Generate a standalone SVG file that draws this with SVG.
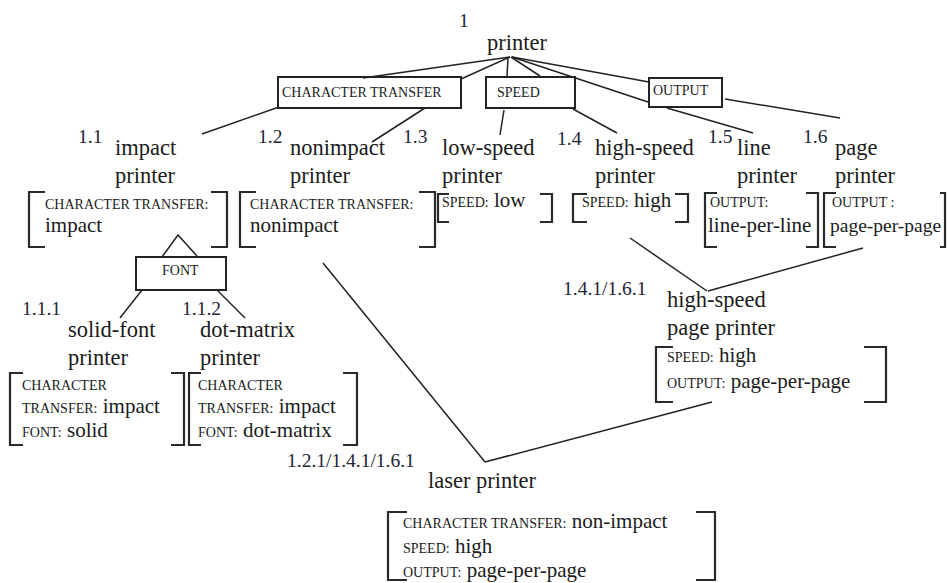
<svg xmlns="http://www.w3.org/2000/svg" width="948" height="583" viewBox="0 0 948 583">
<style>
text{font-family:"Liberation Serif","Times New Roman",serif;fill:#1b1b1b}
.nm{font-size:22.5px}
.num{font-size:19.5px;fill:#1e2638}
.sc{font-size:14px}
.v{font-size:21px}
.box{fill:none;stroke:#222;stroke-width:2}
.br{fill:none;stroke:#2a2a2a;stroke-width:2.2}
.ln{fill:none;stroke:#222;stroke-width:1.5}
</style>
<rect width="948" height="583" fill="#fff"/>
<g id="connectors">
<line class="ln" x1="510" y1="57" x2="363" y2="78"/>
<line class="ln" x1="510" y1="57" x2="461" y2="79"/>
<line class="ln" x1="508" y1="57" x2="507" y2="77"/>
<line class="ln" x1="511" y1="57" x2="540" y2="76"/>
<line class="ln" x1="512" y1="57" x2="649" y2="82"/>
<line class="ln" x1="512" y1="57" x2="648" y2="102"/>
<line class="ln" x1="667" y1="108" x2="753" y2="133"/>
<line class="ln" x1="725" y1="99" x2="840" y2="118"/>
<line class="ln" x1="279" y1="107" x2="202" y2="134"/>
<line class="ln" x1="425" y1="108" x2="372" y2="142"/>
<line class="ln" x1="504" y1="110" x2="500" y2="135"/>
<line class="ln" x1="573" y1="109" x2="617" y2="133"/>
<polyline class="ln" points="162,257 178,235 197,256"/>
<line class="ln" x1="142" y1="290" x2="120" y2="318"/>
<line class="ln" x1="217" y1="290" x2="245" y2="318"/>
<line class="ln" x1="630" y1="238" x2="707" y2="291"/>
<line class="ln" x1="863" y1="248" x2="708" y2="291"/>
<line class="ln" x1="323" y1="263" x2="485" y2="462"/>
<line class="ln" x1="712" y1="402" x2="485" y2="462"/>
</g>
<g id="n-printer">
<text class="num" x="459" y="27">1</text>
<text class="nm" x="487" y="50">printer</text>
</g>
<g id="f-character-transfer">
<rect class="box" x="278" y="77" width="183" height="31"/>
<text class="sc" x="282" y="97">CHARACTER TRANSFER</text>
</g>
<g id="f-speed">
<rect class="box" x="486" y="77" width="89" height="31"/>
<text class="sc" x="497" y="97">SPEED</text>
</g>
<g id="f-output">
<rect class="box" x="649" y="78" width="73" height="29"/>
<text class="sc" x="653" y="95">OUTPUT</text>
</g>
<g id="n-impact">
<text class="num" x="78" y="143">1.1</text>
<text class="nm" x="115" y="155">impact</text>
<text class="nm" x="115" y="183">printer</text>
<path class="br" d="M45,192H29V247H45M211,192H227V247H211"/>
<text class="sc" x="45" y="209">CHARACTER TRANSFER:</text>
<text class="v" x="45" y="232">impact</text>
</g>
<g id="n-nonimpact">
<text class="num" x="258" y="143">1.2</text>
<text class="nm" x="290" y="155">nonimpact</text>
<text class="nm" x="290" y="183">printer</text>
<path class="br" d="M256,192H240V247H256M419,192H435V247H419"/>
<text class="sc" x="250" y="209">CHARACTER TRANSFER:</text>
<text class="v" x="250" y="232">nonimpact</text>
</g>
<g id="n-low-speed">
<text class="num" x="403" y="143">1.3</text>
<text class="nm" x="442" y="155">low-speed</text>
<text class="nm" x="442" y="183">printer</text>
<path class="br" d="M449,194H438V222H449M540,194H552V222H540"/>
<text x="442" y="207"><tspan class="sc">SPEED:</tspan><tspan class="v"> low</tspan></text>
</g>
<g id="n-high-speed">
<text class="num" x="557" y="145">1.4</text>
<text class="nm" x="595" y="155">high-speed</text>
<text class="nm" x="595" y="183">printer</text>
<path class="br" d="M587,194H573V222H587M675,194H688V222H675"/>
<text x="582" y="207"><tspan class="sc">SPEED:</tspan><tspan class="v"> high</tspan></text>
</g>
<g id="n-line">
<text class="num" x="708" y="143">1.5</text>
<text class="nm" x="737" y="155">line</text>
<text class="nm" x="737" y="183">printer</text>
<path class="br" d="M717,193H705V247H717M806,193H818V247H806"/>
<text class="sc" x="710" y="207">OUTPUT:</text>
<text class="v" x="708" y="232">line-per-line</text>
</g>
<g id="n-page">
<text class="num" x="803" y="143">1.6</text>
<text class="nm" x="835" y="155">page</text>
<text class="nm" x="835" y="183">printer</text>
<path class="br" d="M836,193H824V247H836M940,193H945V247H940"/>
<text class="sc" x="832" y="207">OUTPUT :</text>
<text class="v" x="830" y="232" style="font-size:19.5px">page-per-page</text>
</g>
<g id="f-font">
<rect class="box" x="136" y="257" width="90" height="33"/>
<text class="sc" x="162" y="275">FONT</text>
</g>
<g id="n-solid-font">
<text class="num" x="22" y="315">1.1.1</text>
<text class="nm" x="68" y="337">solid-font</text>
<text class="nm" x="68" y="365">printer</text>
<path class="br" d="M23,373H10V445H23M171,373H184V445H171"/>
<text class="sc" x="22" y="390">CHARACTER</text>
<text x="22" y="413"><tspan class="sc">TRANSFER:</tspan><tspan class="v"> impact</tspan></text>
<text x="22" y="437"><tspan class="sc">FONT:</tspan><tspan class="v"> solid</tspan></text>
</g>
<g id="n-dot-matrix">
<text class="num" x="182" y="315">1.1.2</text>
<text class="nm" x="200" y="337">dot-matrix</text>
<text class="nm" x="200" y="365">printer</text>
<path class="br" d="M201,373H189V445H201M343,373H357V445H343"/>
<text class="sc" x="198" y="390">CHARACTER</text>
<text x="198" y="413"><tspan class="sc">TRANSFER:</tspan><tspan class="v"> impact</tspan></text>
<text x="198" y="437"><tspan class="sc">FONT:</tspan><tspan class="v"> dot-matrix</tspan></text>
</g>
<g id="n-high-speed-page">
<text class="num" x="563" y="295">1.4.1/1.6.1</text>
<text class="nm" x="667" y="307">high-speed</text>
<text class="nm" x="667" y="335">page printer</text>
<path class="br" d="M673,347H656V402H673M864,347H886V402H864"/>
<text x="667" y="362"><tspan class="sc">SPEED:</tspan><tspan class="v"> high</tspan></text>
<text x="667" y="388"><tspan class="sc">OUTPUT:</tspan><tspan class="v"> page-per-page</tspan></text>
</g>
<g id="n-laser">
<text class="num" x="287" y="467">1.2.1/1.4.1/1.6.1</text>
<text class="nm" x="428" y="488">laser printer</text>
<path class="br" d="M407,512H388V580H407M696,512H715V580H696"/>
<text x="403" y="528"><tspan class="sc">CHARACTER TRANSFER:</tspan><tspan class="v"> non-impact</tspan></text>
<text x="403" y="553"><tspan class="sc">SPEED:</tspan><tspan class="v"> high</tspan></text>
<text x="403" y="577"><tspan class="sc">OUTPUT:</tspan><tspan class="v"> page-per-page</tspan></text>
</g>
</svg>
